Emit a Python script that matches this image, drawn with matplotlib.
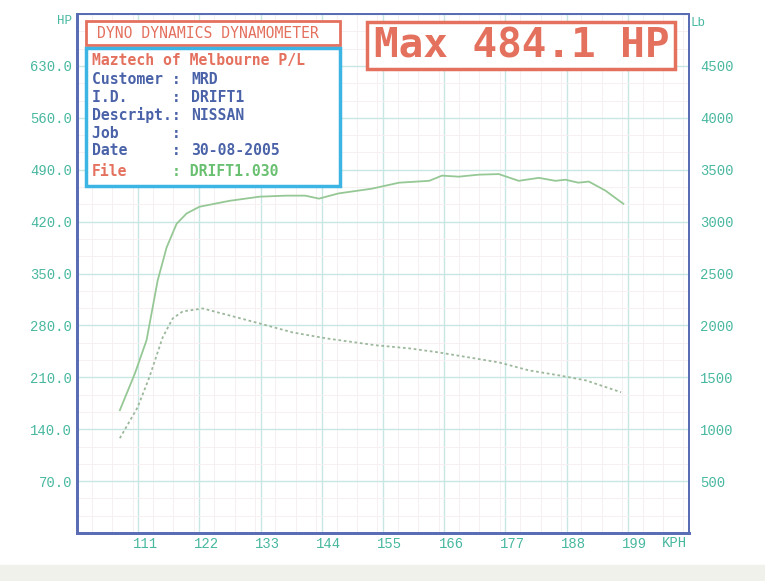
import matplotlib
matplotlib.use("Agg")
import matplotlib.pyplot as plt
import matplotlib.transforms as mtransforms
from matplotlib.patches import Rectangle
from matplotlib.ticker import MultipleLocator

# power curve (HP vs road speed)
power_kph = [107.7, 110.4, 112.5, 114.5, 116.1, 117.9, 119.7, 122.0, 127.4, 132.8,
             137.6, 141.0, 143.5, 147.0, 153.0, 157.9, 163.3, 165.6, 168.6, 172.2,
             175.8, 179.4, 183.0, 186.0, 187.8, 190.1, 192.0, 195.0, 198.2]
power_hp = [165.6, 215.0, 260.0, 340.6, 385.0, 417.0, 431.0, 440.0, 448.0, 453.6,
            455.0, 455.0, 451.0, 458.0, 464.4, 472.5, 475.0, 482.0, 480.6, 483.3,
            484.1, 475.0, 479.0, 475.0, 476.5, 472.5, 474.0, 461.7, 444.0]

# tractive effort (Lb), right axis
force_kph = [107.7, 110.9, 113.0, 115.4, 117.2, 119.0, 122.6, 127.4, 132.8, 138.7,
             144.8, 153.8, 159.7, 165.0, 170.4, 175.8, 181.2, 186.6, 191.4, 197.8]
force_lb = [913, 1211, 1500, 1885, 2067, 2135, 2163, 2096, 2019, 1933,
            1875, 1808, 1779, 1740, 1692, 1644, 1567, 1519, 1471, 1356]

hp_ticks = [70, 140, 210, 280, 350, 420, 490, 560, 630]
lb_ticks = [500, 1000, 1500, 2000, 2500, 3000, 3500, 4000, 4500]
kph_ticks = [111, 122, 133, 144, 155, 166, 177, 188, 199]

info_rows = [
    ("Customer :", "MRD"),
    ("I.D.     :", "DRIFT1"),
    ("Descript.:", "NISSAN"),
    ("Job      :", ""),
    ("Date     :", "30-08-2005"),
]

W, H = 765, 581
TEAL = "#48b8a0"
BLUE = "#4a62a8"
RED = "#e4705e"
GREEN = "#68c070"
MONO = "DejaVu Sans Mono"
TICKFONT = "Liberation Mono"


def px(x, y):
    return x / W, 1 - y / H


fig = plt.figure(figsize=(W / 100, H / 100), dpi=100, facecolor="white")
fig.add_artist(Rectangle(px(0, 581), 1, 16 / H, transform=fig.transFigure,
                         color="#f1f1ec", zorder=0))

l, b = px(77, 533)
r, t = px(689, 14)
ax = fig.add_axes([l, b, r - l, t - b])
ax2 = ax.twinx()

ax.set_xlim(100, 210)
ax.set_ylim(0, 700)
ax2.set_ylim(0, 5000)

ax.xaxis.set_major_locator(MultipleLocator(11))
ax.xaxis.set_minor_locator(MultipleLocator(11 / 3))
ax.yaxis.set_major_locator(MultipleLocator(70))
ax.yaxis.set_minor_locator(MultipleLocator(70 / 3))
ax.grid(True, which="major", color="#c8e6e2", linewidth=1.0)
ax.grid(True, which="minor", color="#f6eef0", linewidth=0.6)
ax.set_axisbelow(True)

ax.set_xticks([100] + kph_ticks + [210], [""] + [str(v) for v in kph_ticks] + [""])
ax.set_yticks([0] + hp_ticks + [700], [""] + [f"{v:.1f}" for v in hp_ticks] + [""])
ax2.set_yticks(lb_ticks, [str(v) for v in lb_ticks])

ax.tick_params(axis="both", which="both", length=0)
ax.tick_params(axis="x", pad=3, labelsize=10, labelcolor=TEAL)
ax.tick_params(axis="y", pad=3.5, labelsize=10, labelcolor=TEAL)
ax2.tick_params(axis="y", length=0, pad=8, labelsize=10, labelcolor=TEAL)
for lab in ax.get_xticklabels():
    lab.set_fontfamily(TICKFONT)
    lab.set_transform(lab.get_transform() +
                      mtransforms.ScaledTranslation(0.07, 0, fig.dpi_scale_trans))
for lab in ax.get_yticklabels() + ax2.get_yticklabels():
    lab.set_fontfamily(TICKFONT)

for a in (ax, ax2):
    for side, sp in a.spines.items():
        sp.set_color("#5a6cb4")
        sp.set_linewidth(2.0 if side in ("left", "bottom") else 1.4)

ax.plot(power_kph, power_hp, color="#96c896", linewidth=1.3, zorder=3)
ax2.plot(force_kph, force_lb, color="#9cb89c", linewidth=1.3,
         linestyle=(0, (1.5, 1.5)), zorder=3)

# axis unit labels
fig.text(*px(72, 21), "HP", color=TEAL, fontsize=9, family=TICKFONT,
         ha="right", va="center")
fig.text(*px(690, 23), "Lb", color=TEAL, fontsize=9, family=TICKFONT,
         ha="left", va="center")
fig.text(*px(662, 543), "KPH", color=TEAL, fontsize=10, family=TICKFONT,
         ha="left", va="center")

# header boxes
def box(x0, y0, x1, y1, color, lw):
    fig.add_artist(Rectangle(px(x0, y1), (x1 - x0) / W, (y1 - y0) / H,
                             transform=fig.transFigure, facecolor="white",
                             edgecolor=color, linewidth=lw, zorder=5))

FS = 10.6
box(86, 21, 340, 45, RED, 2.0)
fig.text(*px(97, 33), "DYNO DYNAMICS DYNAMOMETER", color=RED, fontsize=FS,
         family=MONO, ha="left", va="center", zorder=6)

box(86, 48, 340, 186, "#3cb4e4", 2.5)
fig.text(*px(92, 60), "Maztech of Melbourne P/L", color=RED, fontsize=FS,
         family=MONO, weight="bold", ha="left", va="center", zorder=6)
row_y = [79, 97, 115, 133, 151]
for (lab, val), y in zip(info_rows, row_y):
    fig.text(*px(92, y), lab, color=BLUE, fontsize=FS, family=MONO,
             weight="bold", ha="left", va="center", zorder=6)
    fig.text(*px(191, y), val, color=BLUE, fontsize=FS, family=MONO,
             weight="bold", ha="left", va="center", zorder=6)
fig.text(*px(92, 172), "File", color=RED, fontsize=FS, family=MONO,
         weight="bold", ha="left", va="center", zorder=6)
fig.text(*px(172, 172), ": DRIFT1.030", color=GREEN, fontsize=FS, family=MONO,
         weight="bold", ha="left", va="center", zorder=6)

box(367, 22, 675, 69, RED, 2.5)
fig.text(*px(522, 46), f"Max {max(power_hp):.1f} HP", color=RED, fontsize=29.5,
         family=MONO, weight="bold", ha="center", va="center", zorder=6)

fig.savefig("out.png", dpi=100, facecolor=fig.get_facecolor())
